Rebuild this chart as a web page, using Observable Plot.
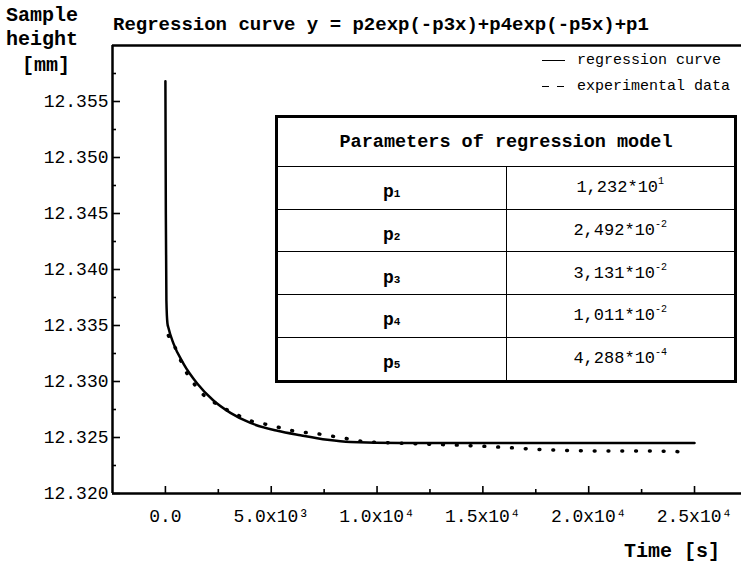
<!DOCTYPE html>
<html><head><meta charset="utf-8">
<script src="https://cdn.jsdelivr.net/npm/d3@7"></script>
<script src="https://cdn.jsdelivr.net/npm/@observablehq/plot@0.6"></script>
<style>
body{margin:0;background:#fff;}
#wrap{position:relative;width:741px;height:562px;font-family:"Liberation Mono",monospace;color:#000;overflow:hidden;}
#wrap svg{position:absolute;left:0;top:0;}
.abs{position:absolute;white-space:nowrap;line-height:1;}
.b{font-weight:bold;}
#tbl{position:absolute;left:275px;top:115px;width:462px;height:268px;border-collapse:collapse;border:3px solid #000;table-layout:fixed;}
#tbl td{border:1.5px solid #000;text-align:center;vertical-align:middle;padding:0;}
#tbl .hd{height:48px;font-weight:bold;font-size:18.5px;}
#tbl .nm{font-weight:bold;font-size:18px;padding-top:9px;}
#tbl .nm sub{font-size:11px;vertical-align:0;}
#tbl .vl{font-size:17px;}
#tbl .vl sup{font-size:10px;vertical-align:8px;line-height:0;}
</style></head><body><div id="wrap"></div>
<script>
// regression curve (time s, height mm)
const curveX = [0, 20, 47, 95, 142, 378, 851, 1512, 2268, 3072, 4017, 5293, 6380, 7656, 8743, 11106, 15000, 20000, 25000];
const curveY = [12.3568, 12.3450, 12.3372, 12.3352, 12.3348, 12.3334, 12.3316, 12.3298, 12.3283, 12.3272, 12.3263, 12.3256, 12.3252, 12.3248, 12.3246, 12.3245, 12.3245, 12.3245, 12.3245];
const expX = [142, 520, 851, 1276, 1749, 2410, 3308, 4159, 4962, 5577, 6285, 6947, 7609, 8270, 9594, 11106, 12524, 14083, 16163, 18053, 20558, 22779, 24716];
const expY = [12.3341, 12.3328, 12.3313, 12.3300, 12.3289, 12.3280, 12.3271, 12.3264, 12.3261, 12.3258, 12.3255, 12.3254, 12.3252, 12.3250, 12.3246, 12.3245, 12.3244, 12.3243, 12.3241, 12.3239, 12.3238, 12.3238, 12.3237];

const yTicks = [12.320, 12.325, 12.330, 12.335, 12.340, 12.345, 12.350, 12.355];
const yMinor = [12.3225, 12.3275, 12.3325, 12.3375, 12.3425, 12.3475, 12.3525, 12.3575];
const xTicks = [0, 5000, 10000, 15000, 20000, 25000];
const xTickLabels = ["0.0", "5.0x10³", "1.0x10⁴", "1.5x10⁴", "2.0x10⁴", "2.5x10⁴"];
const xMinor = [2500, 7500, 12500, 17500, 22500];
const xDomain = [-2500, 27220];
const yDomain = [12.32, 12.36];

const paramIdx = ["1", "2", "3", "4", "5"];
const paramMant = ["1,232", "2,492", "3,131", "1,011", "4,288"];
const paramExp = ["1", "-2", "-2", "-2", "-4"];

const W = 741, H = 562, ML = 112, MR = 0, MT = 45, MB = 69;
const plotW = W - ML - MR, plotH = H - MT - MB;

const curve = curveX.map((x, i) => ({x, y: curveY[i]}));
const exp = expX.map((x, i) => ({x, y: expY[i]}));

const chart = Plot.plot({
  width: W, height: H,
  marginLeft: ML, marginRight: MR, marginTop: MT, marginBottom: MB,
  x: {domain: xDomain},
  y: {domain: yDomain},
  style: {fontFamily: "'Liberation Mono', monospace", fontSize: "18px", color: "#000", background: "#fff", overflow: "visible"},
  marks: [
    // inward tick marks on the left and bottom axes
    Plot.tickY(yMinor, {y: d => d, strokeWidth: 1.6, insetRight: plotW - 4}),
    Plot.tickY(yTicks, {y: d => d, strokeWidth: 1.6, insetRight: plotW - 8}),
    Plot.tickX(xMinor, {x: d => d, strokeWidth: 1.6, insetTop: plotH - 4}),
    Plot.tickX(xTicks, {x: d => d, strokeWidth: 1.6, insetTop: plotH - 7}),
    Plot.axisY(yTicks, {tickSize: 0, tickPadding: 4, tickFormat: d3.format(".3f"), label: null}),
    Plot.axisX(xTicks, {tickSize: 0, tickPadding: 16, tickFormat: (d, i) => xTickLabels[i], label: null}),
    Plot.ruleX([xDomain[0]], {strokeWidth: 2.5}),
    Plot.ruleY([yDomain[0]], {strokeWidth: 2.5}),
    Plot.ruleY([yDomain[1]], {strokeWidth: 2.5}),
    Plot.line(exp, {x: "x", y: "y", strokeWidth: 3.5, strokeDasharray: "0.8 13", strokeLinecap: "round", curve: "monotone-x"}),
    Plot.line(curve, {x: "x", y: "y", strokeWidth: 2.5, curve: "monotone-x"})
  ]
});

const wrap = document.getElementById("wrap");
wrap.appendChild(chart);

function add(html, css, cls) {
  const d = document.createElement("div");
  d.className = "abs " + (cls || "");
  d.style.cssText = css;
  d.innerHTML = html;
  wrap.appendChild(d);
  return d;
}
add("Regression curve y = p2exp(-p3x)+p4exp(-p5x)+p1", "left:113px;top:16px;font-size:19px;", "b");
add("Sample", "left:6px;top:6px;font-size:20px;", "b");
add("height", "left:6px;top:30px;font-size:20px;", "b");
add("[mm]", "left:22px;top:56px;font-size:20px;", "b");
add("Time [s]", "left:624px;top:542px;font-size:20px;", "b");
// legend
add("", "left:542px;top:60px;width:23px;height:0;border-top:1.6px solid #000;");
add("", "left:542px;top:86px;width:7px;height:0;border-top:1.6px solid #000;");
add("", "left:557px;top:86px;width:7px;height:0;border-top:1.6px solid #000;");
add("regression curve", "left:577px;top:53px;font-size:15px;");
add("experimental data", "left:577px;top:79px;font-size:15px;");
// table
let rows = `<tr><td colspan="2" class="hd">Parameters of regression model</td></tr>`;
paramIdx.forEach((p, i) => {
  rows += `<tr><td class="nm">p<sub>${p}</sub></td><td class="vl">${paramMant[i]}*10<sup>${paramExp[i]}</sup></td></tr>`;
});
const t = document.createElement("table");
t.id = "tbl";
t.innerHTML = rows;
wrap.appendChild(t);
</script></body></html>
